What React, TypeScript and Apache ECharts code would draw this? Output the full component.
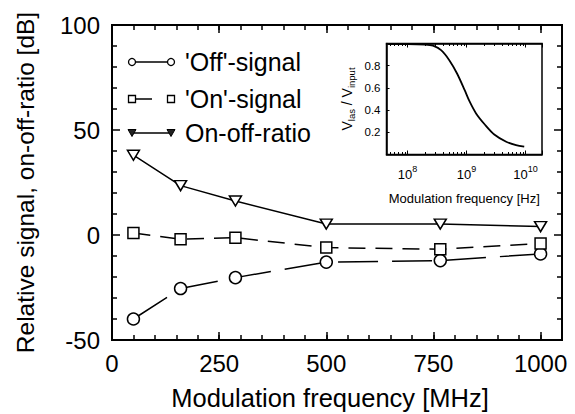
import React, { useEffect, useRef } from 'react';
import * as echarts from 'echarts';

// Main plot data (Modulation frequency in MHz, values in dB)
const mainFreq = [50, 160, 288, 500, 766, 1000];
const offSignal = [-40, -25.5, -20.3, -12.9, -12.2, -9];
const onSignal = [1, -2, -1.3, -6, -6.8, -4];
const onOffRatio = [38, 23.5, 16.2, 5.2, 5.2, 4];

// Inset data (Modulation frequency in Hz, V_las / V_input)
const insetFreqHz = [4.7e7, 1e8, 2e8, 2.7e8, 3.7e8, 5.1e8, 6.9e8, 9.3e8, 1.12e9, 1.45e9, 2.04e9, 2.95e9, 4.7e9, 6.9e9, 9.5e9];
const insetRatio = [0.995, 0.995, 0.99, 0.98, 0.94, 0.85, 0.73, 0.58, 0.48, 0.37, 0.27, 0.18, 0.115, 0.085, 0.07];

const legendLabels = ["'Off'-signal", "'On'-signal", 'On-off-ratio'];

const FONT = "'Liberation Sans', Arial, Helvetica, sans-serif";
const BLACK = '#000';

function buildOption() {
  const tickStyle = { color: BLACK, width: 1.5 };
  const legendRows = [62, 99, 133];
  const lx1 = 132;
  const lx2 = 171;
  const graphics: any[] = [];
  graphics.push({ type: 'line', shape: { x1: lx1, y1: legendRows[0], x2: lx2, y2: legendRows[0] }, style: { stroke: BLACK, lineWidth: 1.5 }, z: 100 });
  [lx1, lx2].forEach((cx) => graphics.push({ type: 'circle', shape: { cx, cy: legendRows[0], r: 3.5 }, style: { fill: '#fff', stroke: BLACK, lineWidth: 1.3 }, z: 101 }));
  graphics.push({ type: 'line', shape: { x1: lx1, y1: legendRows[1], x2: 152, y2: legendRows[1] }, style: { stroke: BLACK, lineWidth: 1.5 }, z: 100 });
  [lx1, lx2].forEach((cx) => graphics.push({ type: 'rect', shape: { x: cx - 3.5, y: legendRows[1] - 3.5, width: 7, height: 7 }, style: { fill: '#fff', stroke: BLACK, lineWidth: 1.3 }, z: 101 }));
  graphics.push({ type: 'line', shape: { x1: lx1, y1: legendRows[2], x2: lx2, y2: legendRows[2] }, style: { stroke: BLACK, lineWidth: 1.5 }, z: 100 });
  [lx1, lx2].forEach((cx) => graphics.push({ type: 'polygon', shape: { points: [[cx - 4, legendRows[2] - 3.5], [cx + 4, legendRows[2] - 3.5], [cx, legendRows[2] + 3.5]] }, style: { fill: '#222', stroke: BLACK, lineWidth: 1 }, z: 101 }));
  legendLabels.forEach((t, i) => graphics.push({ type: 'text', x: 185, y: legendRows[i], style: { text: t, fontSize: 25, fontFamily: FONT, fill: BLACK, verticalAlign: 'middle', align: 'left' }, z: 101 }));

  const mainXAxis = (position: string, interval: number, tickLen: number, withLabel: boolean, withLine: boolean) => ({
    gridIndex: 0,
    type: 'value',
    position,
    min: 0,
    max: 1050,
    interval,
    axisLine: { show: withLine, onZero: false, lineStyle: { color: BLACK, width: 2 } },
    axisTick: { show: true, inside: true, length: tickLen, lineStyle: tickStyle },
    axisLabel: withLabel
      ? { show: true, color: BLACK, fontSize: 24, fontFamily: FONT, margin: 11, showMaxLabel: false, formatter: (v: number) => String(v) }
      : { show: false },
    splitLine: { show: false },
  });

  const insetLogAxis = (position: string, withLabel: boolean) => ({
    gridIndex: 1,
    type: 'log',
    logBase: 10,
    position,
    min: 4.4e7,
    max: 1.9e10,
    axisLine: { show: true, onZero: false, lineStyle: { color: BLACK, width: 1.5 } },
    axisTick: { show: true, inside: true, length: 4, lineStyle: { color: BLACK, width: 1 } },
    minorTick: { show: true, splitNumber: 9, length: 2.5, lineStyle: { color: BLACK, width: 1 } },
    axisLabel: withLabel
      ? {
          show: true,
          showMinLabel: false,
          showMaxLabel: false,
          margin: 10,
          formatter: (v: number) => `{b|10}{p|${Math.round(Math.log10(v))}}`,
          rich: {
            b: { fontSize: 13, fontFamily: FONT, color: BLACK, lineHeight: 20, verticalAlign: 'middle' },
            p: { fontSize: 9, fontFamily: FONT, color: BLACK, lineHeight: 9, verticalAlign: 'top' },
          },
        }
      : { show: false },
    splitLine: { show: false },
    minorSplitLine: { show: false },
  });

  return {
    animation: false,
    backgroundColor: '#fff',
    textStyle: { fontFamily: FONT },
    grid: [
      { left: 112, top: 25, width: 450, height: 315, show: true, borderColor: BLACK, borderWidth: 2, containLabel: false, outerBoundsMode: 'none' },
      { left: 386.5, top: 43.5, width: 155.5, height: 111, show: true, borderColor: BLACK, borderWidth: 1.5, backgroundColor: '#fff', containLabel: false, outerBoundsMode: 'none' },
    ],
    xAxis: [
      {
        ...mainXAxis('bottom', 250, 8, true, true),
        name: 'Modulation frequency [MHz]',
        nameLocation: 'middle',
        nameGap: 45,
        nameTextStyle: { fontSize: 25.5, color: BLACK, fontFamily: FONT, padding: [0, 14, 0, 0] },
      },
      mainXAxis('bottom', 50, 5, false, false),
      mainXAxis('top', 250, 8, false, true),
      mainXAxis('top', 50, 5, false, false),
      {
        ...insetLogAxis('bottom', true),
        name: 'Modulation frequency [Hz]',
        nameLocation: 'middle',
        nameGap: 37,
        nameTextStyle: { fontSize: 13, color: BLACK, fontFamily: FONT },
      },
      insetLogAxis('top', false),
    ],
    yAxis: [
      {
        gridIndex: 0,
        type: 'value',
        position: 'left',
        min: -50,
        max: 100,
        interval: 50,
        axisLine: { show: true, onZero: false, lineStyle: { color: BLACK, width: 2 } },
        axisTick: { show: true, inside: true, length: 8, lineStyle: tickStyle },
        minorTick: { show: true, splitNumber: 5, length: 5, lineStyle: tickStyle },
        axisLabel: { show: true, color: BLACK, fontSize: 24, fontFamily: FONT, margin: 12 },
        splitLine: { show: false },
        name: 'Relative signal, on-off-ratio [dB]',
        nameLocation: 'middle',
        nameGap: 74,
        nameRotate: 90,
        nameTextStyle: { fontSize: 24.5, color: BLACK, fontFamily: FONT },
      },
      {
        gridIndex: 0,
        type: 'value',
        position: 'right',
        min: -50,
        max: 100,
        interval: 50,
        axisLine: { show: true, onZero: false, lineStyle: { color: BLACK, width: 2 } },
        axisTick: { show: true, inside: true, length: 8, lineStyle: tickStyle },
        minorTick: { show: true, splitNumber: 5, length: 5, lineStyle: tickStyle },
        axisLabel: { show: false },
        splitLine: { show: false },
      },
      {
        gridIndex: 1,
        type: 'value',
        position: 'left',
        min: 0,
        max: 1,
        interval: 0.2,
        axisLine: { show: true, onZero: false, lineStyle: { color: BLACK, width: 1.5 } },
        axisTick: { show: true, inside: true, length: 3, lineStyle: { color: BLACK, width: 1 } },
        axisLabel: {
          show: true,
          color: BLACK,
          fontSize: 11.5,
          fontFamily: FONT,
          margin: 6,
          showMinLabel: false,
          showMaxLabel: false,
          formatter: (v: number) => v.toFixed(1),
        },
        splitLine: { show: false },
        name: '{v|V}{s|las}{v| / V}{s|input}',
        nameLocation: 'middle',
        nameRotate: 90,
        nameGap: 30,
        nameTextStyle: {
          color: BLACK,
          fontFamily: FONT,
          rich: {
            v: { fontSize: 14, fontFamily: FONT, color: BLACK, lineHeight: 20, verticalAlign: 'middle' },
            s: { fontSize: 9.5, fontFamily: FONT, color: BLACK, lineHeight: 10, verticalAlign: 'bottom' },
          },
        },
      },
    ],
    series: [
      {
        name: legendLabels[0],
        type: 'line',
        xAxisIndex: 0,
        yAxisIndex: 0,
        data: mainFreq.map((f, i) => [f, offSignal[i]]),
        symbol: 'circle',
        symbolSize: 12,
        itemStyle: { color: '#fff', borderColor: BLACK, borderWidth: 1.5 },
        lineStyle: { color: BLACK, width: 1.5, type: [40, 14] },
        z: 3,
      },
      {
        name: legendLabels[1],
        type: 'line',
        xAxisIndex: 0,
        yAxisIndex: 0,
        data: mainFreq.map((f, i) => [f, onSignal[i]]),
        symbol: 'rect',
        symbolSize: 11,
        itemStyle: { color: '#fff', borderColor: BLACK, borderWidth: 1.5 },
        lineStyle: { color: BLACK, width: 1.5, type: [17, 10] },
        z: 3,
      },
      {
        name: legendLabels[2],
        type: 'line',
        xAxisIndex: 0,
        yAxisIndex: 0,
        data: mainFreq.map((f, i) => [f, onOffRatio[i]]),
        symbol: 'triangle',
        symbolRotate: 180,
        symbolSize: [12, 10],
        itemStyle: { color: '#fff', borderColor: BLACK, borderWidth: 1.5 },
        lineStyle: { color: BLACK, width: 1.5, type: 'solid' },
        z: 3,
      },
      {
        name: 'V_las / V_input',
        type: 'line',
        xAxisIndex: 4,
        yAxisIndex: 2,
        data: insetFreqHz.map((f, i) => [f, insetRatio[i]]),
        symbol: 'none',
        showSymbol: false,
        smooth: 0.3,
        lineStyle: { color: BLACK, width: 1.8 },
        z: 5,
      },
    ],
    graphic: graphics,
  };
}

export default function App() {
  const ref = useRef<HTMLDivElement>(null);
  useEffect(() => {
    if (!ref.current) return;
    const chart = echarts.init(ref.current, null, { renderer: 'svg' });
    chart.setOption(buildOption() as any);
    return () => chart.dispose();
  }, []);
  return <div ref={ref} style={{ position: 'fixed', left: 0, top: 0, width: 575, height: 414 }} />;
}
